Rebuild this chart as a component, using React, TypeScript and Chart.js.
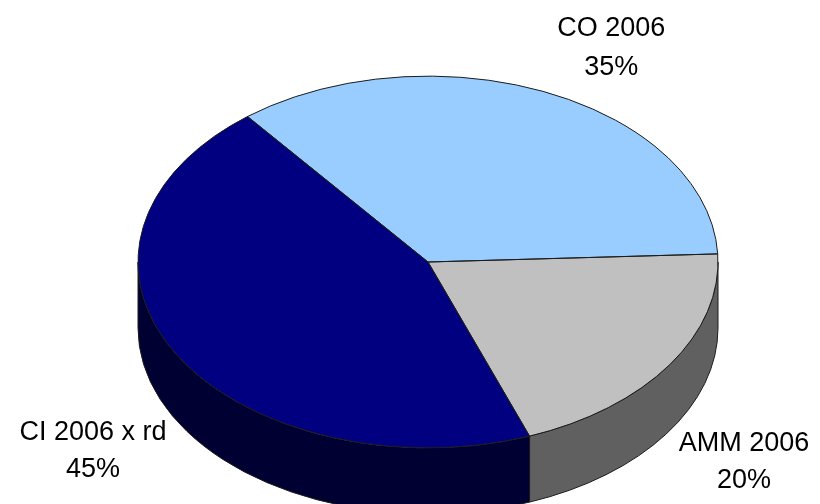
import React, { useEffect, useRef } from 'react';
import { Chart, registerables } from 'chart.js';

Chart.register(...registerables);

// ---- data ----
const categories: string[] = ['CO 2006', 'AMM 2006', 'CI 2006 x rd'];
const shares: number[] = [35, 20, 45];

// ---- styles ----
const TOP_COLORS = ['#99CCFF', '#C0C0C0', '#000080'];
const SIDE_COLORS = ['#4C6680', '#606060', '#000033'];
const TILT = 0.641; // vertical squish of the pie disc
const DEPTH = 66; // thickness of the 3D wall in px
const EDGE = '#1c1c1c';
const FONT = '27px "Liberation Sans", Arial, Helvetica, sans-serif';

const pie3d = {
  id: 'pie3d',
  beforeDatasetsDraw(chart: any) {
    const ctx: CanvasRenderingContext2D = chart.ctx;
    const meta = chart.getDatasetMeta(0);
    ctx.save();
    meta.data.forEach((arc: any, i: number) => {
      const { x, y, startAngle, endAngle, outerRadius } = arc.getProps(
        ['x', 'y', 'startAngle', 'endAngle', 'outerRadius'],
        true
      );
      const rx = outerRadius;
      const ry = outerRadius * TILT;
      for (let k = -1; k <= 1; k++) {
        const a = Math.max(startAngle, 2 * Math.PI * k);
        const b = Math.min(endAngle, 2 * Math.PI * k + Math.PI);
        if (b <= a) continue;
        ctx.beginPath();
        ctx.ellipse(x, y, rx, ry, 0, a, b, false);
        ctx.ellipse(x, y + DEPTH, rx, ry, 0, b, a, true);
        ctx.closePath();
        ctx.fillStyle = SIDE_COLORS[i];
        ctx.fill();
        ctx.lineWidth = 1;
        ctx.strokeStyle = EDGE;
        ctx.stroke();
      }
    });
    ctx.restore();
    const cx = meta.data[0].x;
    const cy = meta.data[0].y;
    ctx.save();
    ctx.translate(cx, cy);
    ctx.scale(1, TILT);
    ctx.translate(-cx, -cy);
  },
  afterDatasetsDraw(chart: any) {
    const ctx: CanvasRenderingContext2D = chart.ctx;
    ctx.restore();
    const meta = chart.getDatasetMeta(0);
    const data: number[] = chart.data.datasets[0].data;
    const total = data.reduce((s, v) => s + v, 0);
    meta.data.forEach((arc: any) => {
      const { x, y, startAngle, endAngle, outerRadius } = arc.getProps(
        ['x', 'y', 'startAngle', 'endAngle', 'outerRadius'],
        true
      );
      ctx.save();
      ctx.translate(x, y);
      ctx.scale(1, TILT);
      ctx.translate(-x, -y);
      ctx.beginPath();
      ctx.moveTo(x, y);
      ctx.arc(x, y, outerRadius, startAngle, endAngle, false);
      ctx.closePath();
      ctx.restore();
      ctx.save();
      ctx.lineWidth = 1;
      ctx.strokeStyle = EDGE;
      ctx.stroke();
      ctx.restore();
    });
    // labels
    ctx.save();
    ctx.font = FONT;
    ctx.fillStyle = '#000000';
    ctx.textAlign = 'center';
    ctx.textBaseline = 'alphabetic';
    meta.data.forEach((arc: any, i: number) => {
      const { x, y, startAngle, endAngle, outerRadius } = arc.getProps(
        ['x', 'y', 'startAngle', 'endAngle', 'outerRadius'],
        true
      );
      const mid = (startAngle + endAngle) / 2;
      const c = Math.cos(mid);
      const s = Math.sin(mid);
      const px = x + outerRadius * c;
      const py = y + outerRadius * TILT * s + (s > 0 ? DEPTH : 0);
      const lines = [
        String(chart.data.labels[i]),
        Math.round((data[i] / total) * 100) + '%',
      ];
      const w = Math.max(...lines.map((l) => ctx.measureText(l).width));
      const gx = 9;
      const left = c >= 0 ? px + gx : px - gx - w;
      const centerX = left + w / 2;
      let b1: number;
      let b2: number;
      if (s < 0) {
        b2 = py - 18;
        b1 = b2 - 39;
      } else {
        b1 = py + 20;
        b2 = b1 + 37;
      }
      ctx.fillText(lines[0], centerX, b1);
      ctx.fillText(lines[1], centerX, b2);
    });
    ctx.restore();
  },
};

export default function App() {
  const ref = useRef<HTMLCanvasElement | null>(null);
  useEffect(() => {
    if (!ref.current) return;
    const chart = new Chart(ref.current, {
      type: 'pie',
      data: {
        labels: categories,
        datasets: [
          {
            data: shares,
            backgroundColor: TOP_COLORS,
            borderWidth: 0,
            radius: 290,
            rotation: -38.5,
            clip: false,
          } as any,
        ],
      },
      options: {
        responsive: false,
        animation: false,
        events: [],
        devicePixelRatio: 1,
        radius: 290,
        rotation: -38.5,
        layout: { padding: { left: 36, top: 20, right: 0, bottom: 0 } },
        plugins: {
          legend: { display: false },
          tooltip: { enabled: false },
        },
      } as any,
      plugins: [pie3d],
    });
    return () => chart.destroy();
  }, []);
  return (
    <div style={{ position: 'fixed', left: 0, top: 0, width: 820, height: 504, background: '#ffffff' }}>
      <canvas ref={ref} width={820} height={504} style={{ width: 820, height: 504, display: 'block' }} />
    </div>
  );
}
